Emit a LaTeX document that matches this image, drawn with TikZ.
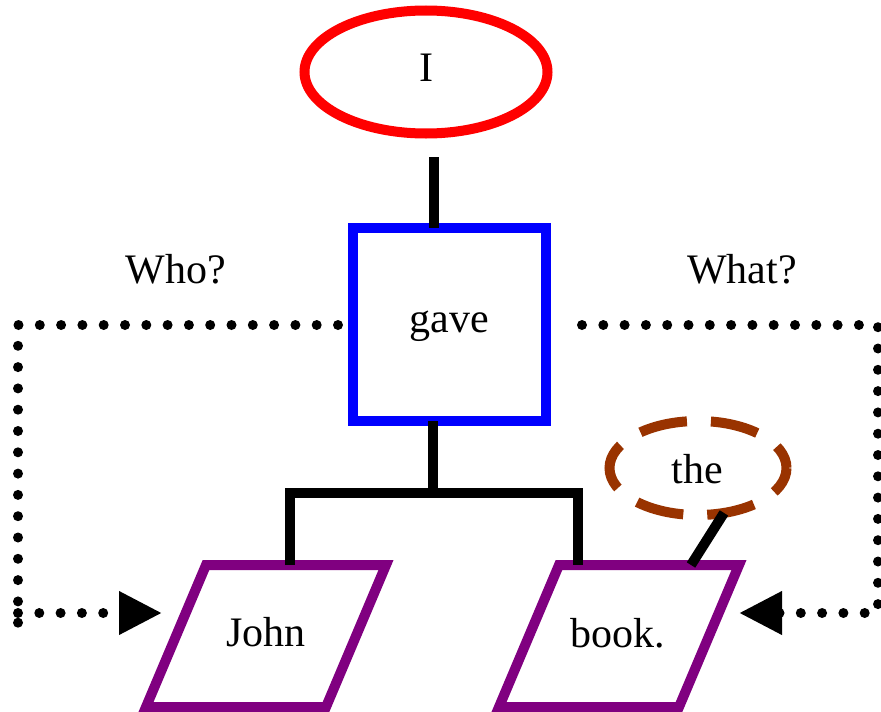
\documentclass[tikz,border=0pt]{standalone}
\usepackage{fontspec}
\setmainfont{Liberation Serif}
\usetikzlibrary{shapes.geometric,arrows.meta}
\definecolor{cRed}{RGB}{255,0,0}
\definecolor{cBlue}{RGB}{0,0,255}
\definecolor{cPurple}{RGB}{128,0,128}
\definecolor{cBrown}{RGB}{153,51,0}
\begin{document}
\begin{tikzpicture}[x=1pt,y=-1pt,
  lbl/.style={font=\fontsize{42}{50}\selectfont, inner sep=0pt, anchor=base},
  heavy/.style={line width=10pt},
  shapebox/.style={heavy, inner sep=0pt, outer sep=0pt},
  dotline/.style={line width=10pt, line cap=round, dash pattern=on 0pt off 21.3pt},
  bigtip/.style={-{Triangle[length=43pt,width=41pt]}}
]
\useasboundingbox (0,0) rectangle (881,712);

% shapes
\node[shapebox, draw=cRed, ellipse, minimum width=243pt, minimum height=123pt] (I) at (426,72) {};
\node[shapebox, draw=cBlue, rectangle, minimum width=193pt, minimum height=193pt] (gave) at (449.5,324.5) {};
\node[shapebox, draw=cBrown, ellipse, minimum width=177pt, minimum height=94pt,
      dash pattern=on 48pt off 24pt, dash phase=24pt] (the) at (698,468) {};
\draw[heavy, cPurple] (206,565) coordinate (Jtl) -- (386,565) -- (326,707) -- (146,707) -- cycle;
\draw[heavy, cPurple] (559,565) coordinate (Btl) -- (739,565) -- (679,707) -- (499,707) -- cycle;

% texts
\node[lbl] (tI) at (426,81) {I};
\node[lbl] (tgave) at (449.5,332) {gave};
\node[lbl] (tthe) at (697.5,483) {the};
\node[lbl] (tJohn) at (266,646) {John};
\node[lbl] (tbook) at (618,647) {book.};
\node[lbl] (who) at (176,283) {Who?};
\node[lbl] (what) at (742,283) {What?};

% coordinates for connector ends
\coordinate (Itop) at (434,157);
\coordinate (gtop) at (434,228);
\coordinate (gbot) at (433,421);
\coordinate (fork) at (433,493);
\coordinate (Jin) at (290,565);
\coordinate (Bin) at (578,565);
\coordinate (theBook) at (691,565);
\coordinate (Lstart) at (338,325);
\coordinate (Lc1) at (18,325);
\coordinate (Lc2) at (18,624);
\coordinate (Lb) at (18,613);
\coordinate (Jtip) at (162,613);
\coordinate (Rstart) at (582,325);
\coordinate (Rc1) at (878,325);
\coordinate (Rc2) at (878,624);
\coordinate (Rb) at (886,613);
\coordinate (Btip) at (739,613);

% tree connectors
\draw[heavy] (Itop) -- (gtop);
\draw[heavy] (gbot) -- (fork);
\draw[heavy] (Jin) |- (fork) -| (Bin);
\draw[heavy] (the.-60) -- (theBook);

% dotted question connectors
\draw[dotline] (Lstart) -- (Lc1) -- (Lc2);
\draw[dotline, bigtip] (Lb) -- (Jtip);
\draw[dotline] (Rstart) -- (Rc1) -- (Rc2);
\draw[dotline, bigtip] (Rb) -- (Btip);
\end{tikzpicture}
\end{document}
